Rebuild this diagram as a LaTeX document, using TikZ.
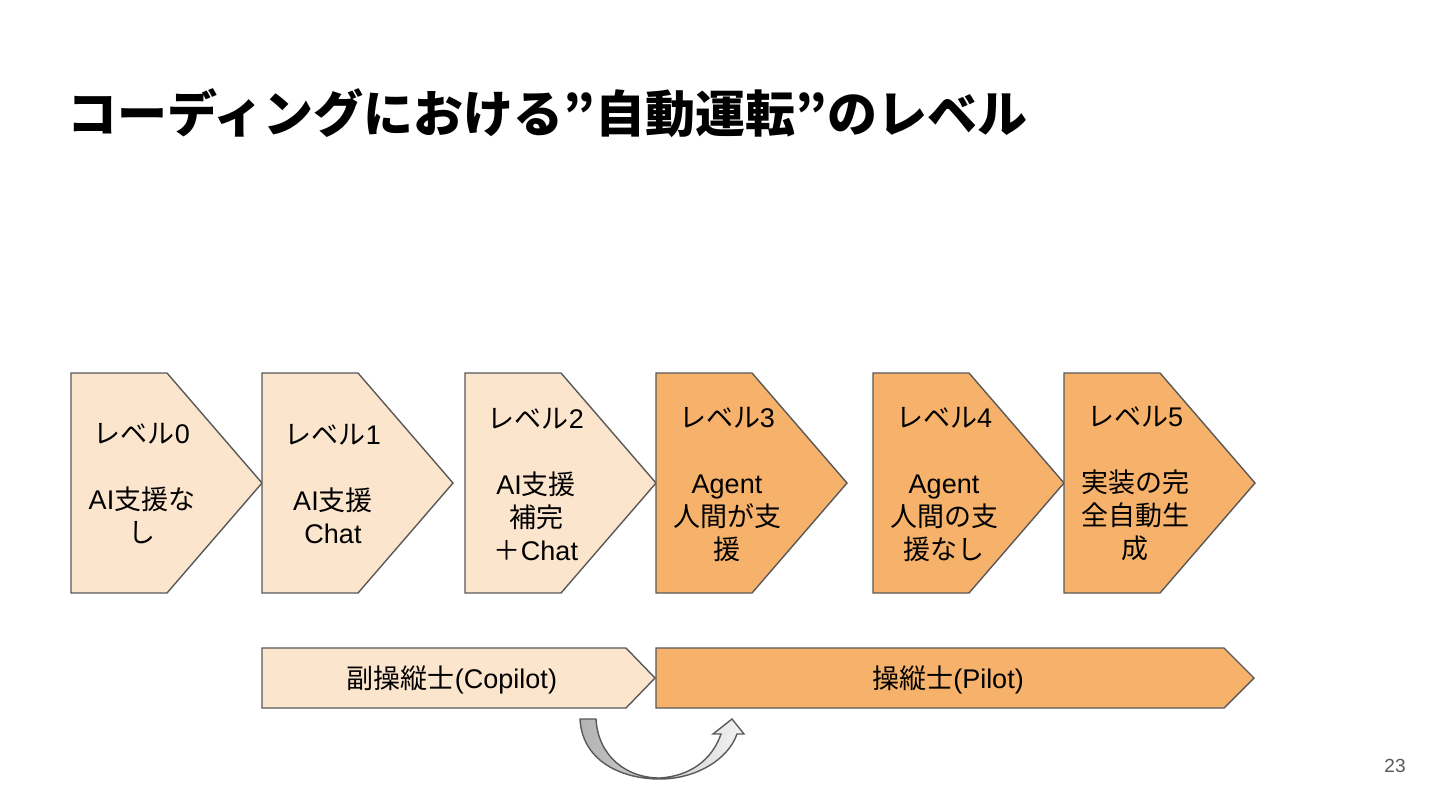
\documentclass[tikz,border=0pt]{standalone}
\usepackage{fontspec}
\setmainfont{Liberation Sans}
\newfontfamily\jp{Noto Sans CJK JP}
\definecolor{lightor}{HTML}{FCE5CD}
\definecolor{darkor}{HTML}{F6B26B}
\definecolor{edge}{HTML}{595959}
\begin{document}
\begin{tikzpicture}[x=0.5pt,y=-0.5pt,
  shapeline/.style={draw=edge, line width=0.7pt, line join=miter},
  lvltxt/.style={align=center, inner sep=0pt, font=\fontsize{13.5}{16.5}\selectfont},
  bartxt/.style={inner sep=0pt, font=\fontsize{13.5}{16.5}\selectfont}]
\useasboundingbox (0,0) rectangle (1440,810);
\fill[white] (0,0) rectangle (1440,810);

% title
\node[anchor=west, inner sep=0pt, font=\jp\bfseries\fontsize{25}{30}\selectfont] (title) at (67,113) {コーディングにおける”自動運転”のレベル};

% level pentagons
\foreach \L/\c in {71/lightor, 262/lightor, 465/lightor, 656/darkor, 873/darkor, 1064/darkor}{
  \draw[shapeline, fill=\c] (\L,373) -- ++(96,0) -- ++(95,110) -- ++(-95,110) -- ++(-96,0) -- cycle;
}

\node[lvltxt] (l0) at (142,484) {{\jp レベル}0\\~\\AI{\jp 支援な}\\{\jp し}};
\node[lvltxt] (l1) at (333,484) {{\jp レベル}1\\~\\AI{\jp 支援}\\Chat};
\node[lvltxt] (l2) at (536,484) {{\jp レベル}2\\~\\AI{\jp 支援}\\{\jp 補完}\\{\jp ＋}Chat};
\node[lvltxt] (l3) at (727,484) {{\jp レベル}3\\~\\Agent\\{\jp 人間が支}\\{\jp 援}};
\node[lvltxt] (l4) at (944,484) {{\jp レベル}4\\~\\Agent\\{\jp 人間の支}\\{\jp 援なし}};
\node[lvltxt] (l5) at (1135,484) {{\jp レベル}5\\~\\{\jp 実装の完}\\{\jp 全自動生}\\{\jp 成}};

% bottom bars
\draw[shapeline, fill=lightor] (262,648) -- (626,648) -- (655,678) -- (626,708) -- (262,708) -- cycle;
\draw[shapeline, fill=darkor] (656,648) -- (1224,648) -- (1254,678) -- (1224,708) -- (656,708) -- cycle;
\node[bartxt] (copilot) at (452,680) {{\jp 副操縦士}(Copilot)};
\node[bartxt] (pilot) at (948,680) {{\jp 操縦士}(Pilot)};

% curved arrow
\shade[left color=gray!60, right color=gray!10, draw=edge, line width=0.7pt, line join=miter]
  (580,719) .. controls (582,760) and (620,779) .. (660,779)
  .. controls (695,779) and (728,760) .. (737,734)
  -- (744,734) -- (732,719) -- (713,734) -- (721,734)
  .. controls (712,760) and (690,776) .. (660,778)
  .. controls (625,778) and (598,755) .. (596,719) -- cycle;

% page number
\node[inner sep=0pt, text=edge, font=\fontsize{9.5}{11}\selectfont] (pg) at (1395,766) {23};
\end{tikzpicture}
\end{document}
